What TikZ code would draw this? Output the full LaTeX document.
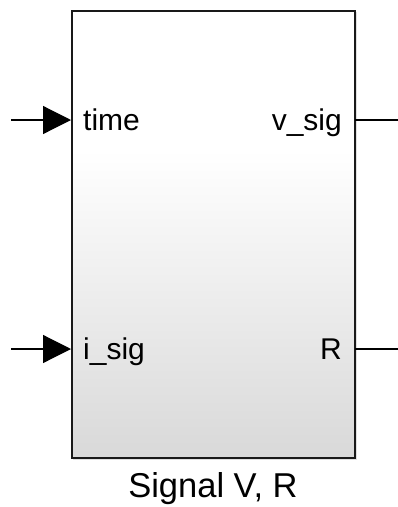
\documentclass[tikz,border=0pt]{standalone}
\usepackage{fontspec}
\setmainfont{Liberation Sans}
\usetikzlibrary{arrows.meta}
\begin{document}
\begin{tikzpicture}[x=1pt,y=-1pt,
  portlabel/.style={inner sep=0pt,font=\fontsize{30}{36}\selectfont},
  titlelabel/.style={inner sep=0pt,font=\fontsize{34.5}{40}\selectfont},
  sigline/.style={line width=1.2pt,black},
  inarrow/.style={sigline,-{Triangle[length=28pt,width=28pt]}}]
\useasboundingbox (0,0) rectangle (398,507);
% shadow
\fill[black!12] (73,12) rectangle (357,460);
% body
\fill[white] (71,10) rectangle (354,150);
\shade[top color=white,bottom color=black!15] (71,150) rectangle (354,457);
\node[draw=black!90,line width=2pt,minimum width=283pt,minimum height=447pt,inner sep=0pt,anchor=north west] (blk) at (71,10) {};
% ports
\coordinate (inA) at (11,120);
\coordinate (inB) at (11,349);
\coordinate (outA) at (398,120);
\coordinate (outB) at (398,349);
\coordinate (pA) at (71,120);
\coordinate (pB) at (71,349);
\coordinate (qA) at (355,120);
\coordinate (qB) at (355,349);
\draw[inarrow] (inA) -- (pA);
\draw[inarrow] (inB) -- (pB);
\draw[sigline] (qA) -- (outA);
\draw[sigline] (qB) -- (outB);
\node[portlabel,anchor=base west] (ltime) at (83,130.5) {time};
\node[portlabel,anchor=base west] (lisig) at (83,359.5) {i\_sig};
\node[portlabel,anchor=base east] (lvsig) at (342,130.5) {v\_sig};
\node[portlabel,anchor=base east] (lR) at (342,359.5) {R};
\node[titlelabel,anchor=base] (title) at (213,497) {Signal V, R};
\end{tikzpicture}
\end{document}
